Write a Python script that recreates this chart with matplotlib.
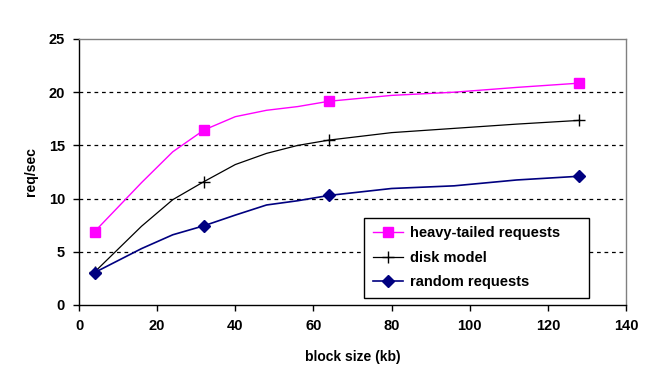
import matplotlib
matplotlib.use("Agg")
import matplotlib.pyplot as plt

plt.rcParams['font.family'] = ['Liberation Sans', 'DejaVu Sans']

block_kb = [4, 16, 24, 32, 40, 48, 56, 64, 80, 96, 112, 128]
heavy_tailed = [6.9, 11.5, 14.4, 16.45, 17.7, 18.3, 18.65, 19.15, 19.7, 20.0, 20.45, 20.85]
disk_model = [3.1, 7.4, 9.9, 11.6, 13.2, 14.25, 15.0, 15.5, 16.2, 16.6, 17.0, 17.35]
random_req = [3.05, 5.3, 6.6, 7.45, 8.45, 9.4, 9.8, 10.3, 10.95, 11.2, 11.75, 12.1]
marker_x = [4, 32, 64, 128]
mark_idx = [block_kb.index(v) for v in marker_x]

x_ticks = [0, 20, 40, 60, 80, 100, 120, 140]
y_ticks = [0, 5, 10, 15, 20, 25]

fig = plt.figure(figsize=(6.48, 3.91), dpi=100)
ax = fig.add_axes([79/648, 1-305/391, 547/648, 266/391])

ax.plot(block_kb, heavy_tailed, color='#FF00FF', lw=1.0, marker='s', ms=7,
        markevery=mark_idx, mec='#FF00FF', mfc='#FF00FF', label='heavy-tailed requests', zorder=3)
ax.plot(block_kb, disk_model, color='black', lw=0.9, marker='+', ms=9, mew=1.0,
        markevery=mark_idx, label='disk model', zorder=3)
ax.plot(block_kb, random_req, color='#000080', lw=1.2, marker='D', ms=6.5,
        markevery=mark_idx, mec='#000080', mfc='#000080', label='random requests', zorder=3)

ax.set_xlim(0, 140)
ax.set_ylim(0, 25)
ax.set_xticks(x_ticks)
ax.set_yticks(y_ticks)
for y in y_ticks[1:-1]:
    ax.axhline(y, color='black', lw=0.9, ls=(0, (3, 3)), zorder=1)

for s in ['top', 'right']:
    ax.spines[s].set_color('#808080')
    ax.spines[s].set_linewidth(1.0)
for s in ['left', 'bottom']:
    ax.spines[s].set_color('black')
    ax.spines[s].set_linewidth(1.0)

ax.tick_params(axis='both', direction='out', length=4, width=1, labelsize=10.5, pad=6)
for lab in ax.get_xticklabels() + ax.get_yticklabels():
    lab.set_fontweight('bold')

ax.set_xlabel('block size (kb)', fontsize=10, fontweight='bold', labelpad=12)
ax.set_ylabel('req/sec', fontsize=10, fontweight='bold', labelpad=8)

leg = ax.legend(loc='lower left', bbox_to_anchor=(0.521, 0.026, 0.411, 0.29), mode='expand',
                fontsize=10.5, frameon=True, fancybox=False, edgecolor='black', framealpha=1,
                borderpad=0.6, labelspacing=0.72, handlelength=2.1, handletextpad=0.45,
                borderaxespad=0)
leg.get_frame().set_linewidth(1.0)
for t in leg.get_texts():
    t.set_fontweight('bold')

fig.savefig('out.png', dpi=100)
